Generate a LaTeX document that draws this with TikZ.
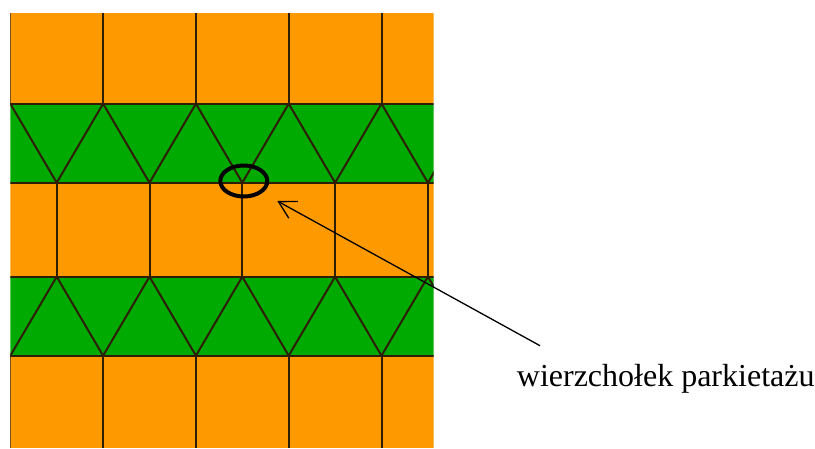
\documentclass[tikz,border=0pt]{standalone}
\usepackage{fontspec}
\setmainfont{Liberation Serif}
\usetikzlibrary{arrows.meta,shapes.geometric}
\definecolor{tileorange}{RGB}{255,153,0}
\definecolor{tilegreen}{RGB}{0,170,0}
\definecolor{tileedge}{RGB}{45,30,5}

\begin{document}
\begin{tikzpicture}[x=1pt,y=-1pt,
  edge/.style={draw=tileedge,line width=2pt},
  pointer/.style={line width=1.3pt,-{Straight Barb[length=17pt,width=19pt]}}]
\useasboundingbox (0,0) rectangle (815,448);

% Tiling: squares and triangles in bands
\begin{scope}
\clip (10.3,13) rectangle (433.7,448);
\fill[tileorange] (0,13) rectangle (440,103.7);
\fill[tilegreen] (0,103.7) rectangle (440,182.7);
\fill[tileorange] (0,182.7) rectangle (440,276.7);
\fill[tilegreen] (0,276.7) rectangle (440,355.7);
\fill[tileorange] (0,355.7) rectangle (440,448);
\foreach \y in {103.7,182.7,276.7,355.7}
  \draw[edge] (0,\y) -- (440,\y);
\foreach \k in {-1,...,5} {
  \pgfmathsetmacro{\xa}{10.3+92.8*\k}
  \pgfmathsetmacro{\xb}{56.7+92.8*\k}
  \draw[edge] (\xa,13) -- (\xa,103.7);
  \draw[edge] (\xa,103.7) -- (\xb,182.7) -- (\xa+92.8,103.7);
  \draw[edge] (\xb,182.7) -- (\xb,276.7);
  \draw[edge] (\xa,355.7) -- (\xb,276.7) -- (\xa+92.8,355.7);
  \draw[edge] (\xa,355.7) -- (\xa,448);
}
\end{scope}

% Vertex mark and label
\node[ellipse,draw,line width=4pt,minimum width=47pt,minimum height=31pt,inner sep=0pt] (vertex) at (243.8,181) {};
\node[anchor=base west,font=\fontsize{32}{34}\selectfont,inner sep=0pt] (label) at (516.7,386) {wierzchołek parkietażu};

\coordinate (tail) at (540,345.7);
\coordinate (tip) at (277.3,201);
\draw[pointer] (tail) -- (tip);
\end{tikzpicture}
\end{document}
